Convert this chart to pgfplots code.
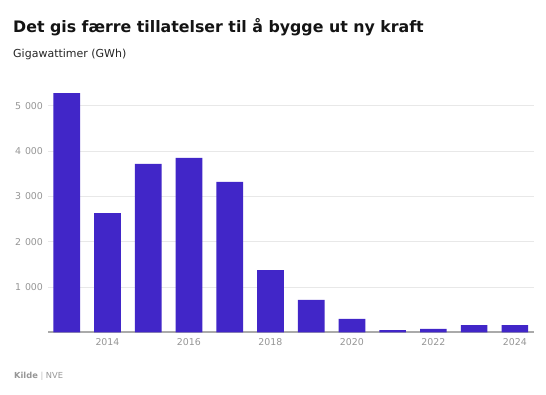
\documentclass[border=0pt]{standalone}
\usepackage{pgfplots}
\pgfplotsset{compat=1.18}
\usepackage{fontspec}
\setmainfont{DejaVu Sans}
\definecolor{barc}{RGB}{65,38,200}
\definecolor{tickc}{RGB}{150,150,150}
\definecolor{gridc}{RGB}{232,232,232}
\definecolor{basec}{RGB}{170,170,170}
\definecolor{titlec}{RGB}{20,20,20}
\begin{document}
\begin{tikzpicture}[x=1pt,y=1pt]
\path[use as bounding box, fill=white] (0,0) rectangle (546,394);
\node[anchor=base west, inner sep=0, text=titlec] at (13,361.5) {\fontsize{15.8}{19}\selectfont\bfseries Det gis færre tillatelser til å bygge ut ny kraft};
\node[anchor=base west, inner sep=0, text=black!85] at (13,336) {\fontsize{11}{13}\selectfont Gigawattimer (GWh)};
\node[anchor=base west, inner sep=0, text=tickc] at (14,16) {\fontsize{8.3}{10}\selectfont\textbf{Kilde} \textcolor{black!25}{|} NVE};
\begin{axis}[
  at={(48pt,61.7pt)}, anchor=south west,
  scale only axis, width=486pt, height=249.2pt,
  xmin=2012.54, xmax=2024.47, ymin=0, ymax=5500,
  axis lines*=left,
  y axis line style={draw=none},
  x axis line style={basec, line width=2pt},
  major tick length=0pt,
  ytick={1000,2000,3000,4000,5000},
  xtick={2014,2016,2018,2020,2022,2024},
  ymajorgrids, grid style={gridc, line width=0.8pt},
  tick label style={font=\fontsize{9.4}{11}\selectfont, text=tickc},
  /pgf/number format/assume math mode=true,
  yticklabel style={/pgf/number format/1000 sep={\hspace{4pt}}, xshift=-1.5pt},
  xticklabel style={/pgf/number format/1000 sep={}, yshift=-3pt},
  clip=false,
]
\addplot[ybar, bar width=26.7pt, fill=barc, draw=none] coordinates {
(2013,5280) (2014,2630) (2015,3715) (2016,3848) (2017,3318) (2018,1375)
(2019,713) (2020,294) (2021,50) (2022,73) (2023,161) (2024,161)
};
\end{axis}
\end{tikzpicture}
\end{document}
